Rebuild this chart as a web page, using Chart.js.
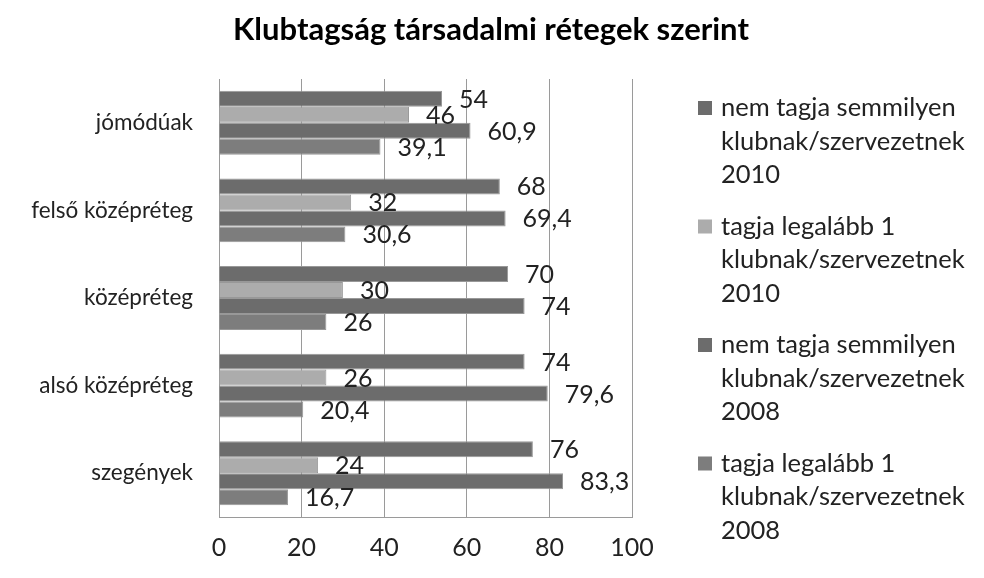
<!DOCTYPE html>
<html>
<head>
<meta charset="utf-8">
<script src="https://cdn.jsdelivr.net/npm/chart.js@4.4.1/dist/chart.umd.min.js"></script>
<style>
html,body{margin:0;padding:0;background:#fff;}
#wrap{position:relative;width:984px;height:578px;}
</style>
</head>
<body>
<div id="wrap"><canvas id="c" width="984" height="578"></canvas></div>
<script>
const chartTitle = "Klubtagság társadalmi rétegek szerint";
const categories = ["jómódúak", "felső középréteg", "középréteg", "alsó középréteg", "szegények"];
const seriesNames = [
  ["nem tagja semmilyen", "klubnak/szervezetnek", "2010"],
  ["tagja legalább 1", "klubnak/szervezetnek", "2010"],
  ["nem tagja semmilyen", "klubnak/szervezetnek", "2008"],
  ["tagja legalább 1", "klubnak/szervezetnek", "2008"]
];
const notMember2010 = [54, 68, 70, 74, 76];
const member2010 = [46, 32, 30, 26, 24];
const notMember2008 = [60.9, 69.4, 74, 79.6, 83.3];
const member2008 = [39.1, 30.6, 26, 20.4, 16.7];
const xTicks = [0, 20, 40, 60, 80, 100];
const colors = ["#6c6c6c", "#acacac", "#6c6c6c", "#7d7d7d"];

const FONT = "Lato";

const titlePlugin = {
  id: 'canvasTitle',
  afterDraw(chart) {
    const ctx = chart.ctx;
    ctx.save();
    ctx.font = "bold 31px " + FONT;
    ctx.fillStyle = "#000";
    ctx.textAlign = "center";
    ctx.textBaseline = "middle";
    ctx.fillText(chartTitle, 491, 30);
    ctx.restore();
  }
};

const valueLabels = {
  id: 'valueLabels',
  afterDatasetsDraw(chart) {
    const ctx = chart.ctx;
    ctx.save();
    ctx.font = "25px " + FONT;
    ctx.fillStyle = "#222";
    ctx.textBaseline = "middle";
    ctx.textAlign = "left";
    chart.data.datasets.forEach((ds, i) => {
      const meta = chart.getDatasetMeta(i);
      meta.data.forEach((bar, j) => {
        const v = ds.data[j];
        const txt = String(v).replace('.', ',');
        ctx.fillText(txt, bar.x + 17, bar.y + 1);
      });
    });
    ctx.restore();
  }
};

const sideLegend = {
  id: 'sideLegend',
  afterDraw(chart) {
    const ctx = chart.ctx;
    ctx.save();
    ctx.font = "25.5px " + FONT;
    ctx.textBaseline = "middle";
    ctx.textAlign = "left";
    const x0 = 698, tx = 721, y0 = 108, lineH = 33.5, itemH = 118.5;
    chart.data.datasets.forEach((ds, i) => {
      const y = y0 + i * itemH;
      ctx.fillStyle = ds.backgroundColor;
      ctx.fillRect(x0, y - 7, 14, 14);
      ctx.fillStyle = "#222";
      seriesNames[i].forEach((line, k) => {
        ctx.fillText(line, tx, y + k * lineH);
      });
    });
    ctx.restore();
  }
};

new Chart(document.getElementById('c'), {
  type: 'bar',
  data: {
    labels: categories,
    datasets: [
      { label: seriesNames[0].join(' '), data: notMember2010, backgroundColor: colors[0] },
      { label: seriesNames[1].join(' '), data: member2010, backgroundColor: colors[1] },
      { label: seriesNames[2].join(' '), data: notMember2008, backgroundColor: colors[2] },
      { label: seriesNames[3].join(' '), data: member2008, backgroundColor: colors[3] }
    ]
  },
  options: {
    indexAxis: 'y',
    responsive: false,
    animation: false,
    devicePixelRatio: 1,
    layout: { padding: { left: 0, right: 352, top: 79, bottom: 0 } },
    datasets: { bar: { categoryPercentage: 0.73, barPercentage: 1.0, borderWidth: 1, borderColor: "#989898" } },
    plugins: {
      legend: { display: false },
      tooltip: { enabled: false },
      title: { display: false }
    },
    scales: {
      x: {
        min: 0, max: 100,
        afterBuildTicks(scale) { scale.ticks = xTicks.map(v => ({ value: v })); },
        ticks: { font: { family: FONT, size: 25 }, color: "#222", padding: 16 },
        grid: { color: "#9a9a9a", drawTicks: false, lineWidth: 1 },
        border: { color: "#9a9a9a", width: 1 },
        afterFit(scale) { scale.height = 61; }
      },
      y: {
        ticks: { font: { family: FONT, size: 22.5 }, color: "#222", padding: 26 },
        grid: { display: false, drawTicks: false },
        border: { color: "#9a9a9a", width: 1 },
        afterFit(scale) { scale.width = 219; }
      }
    }
  },
  plugins: [valueLabels, sideLegend, titlePlugin]
});
</script>
</body>
</html>
